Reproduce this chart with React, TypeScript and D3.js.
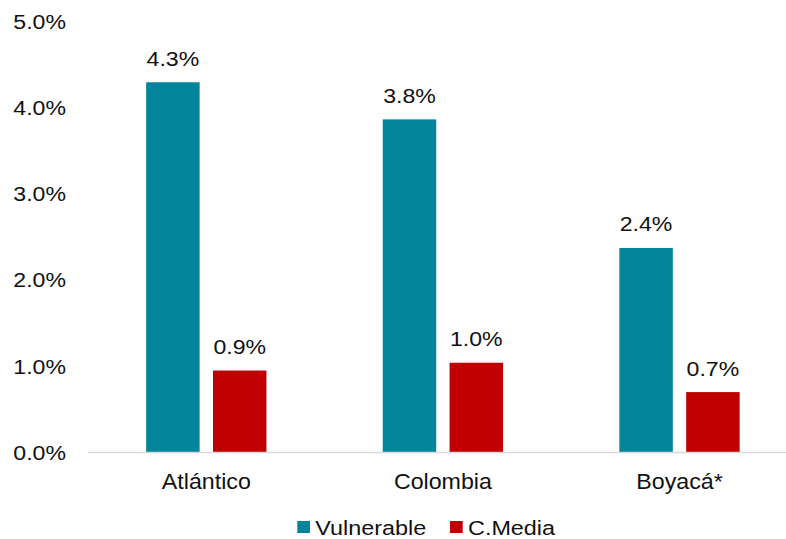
import React from "react";
import * as d3 from "d3";

const categories = ["Atlántico", "Colombia", "Boyacá*"];
const seriesNames = ["Vulnerable", "C.Media"];
const vulnerable = [0.0429, 0.0386, 0.0237];
const cMedia = [0.0095, 0.0104, 0.0070];
const valueLabels = [
  ["4.3%", "0.9%"],
  ["3.8%", "1.0%"],
  ["2.4%", "0.7%"],
];
const yTicks = [0, 0.01, 0.02, 0.03, 0.04, 0.05];
const colors = ["#02849B", "#C00000"];

const W = 786;
const H = 539;
const FONT = "'Liberation Sans', Arial, sans-serif";

function SText({ x, y, size, sx, anchor, children }: any) {
  return (
    <text
      transform={`translate(${x},${y}) scale(${sx},1)`}
      fontSize={size}
      fontFamily={FONT}
      fill="#111"
      textAnchor={anchor}
    >
      {children}
    </text>
  );
}

export default function App() {
  const y = d3.scaleLinear().domain([0, 0.05]).range([452.5, 21]);
  const x = d3.scaleBand<string>().domain(categories).range([88, 797.8]).padding(0);
  const groupW = 120.3;
  const values = [vulnerable, cMedia];

  return (
    <div style={{ position: "fixed", left: 0, top: 0 }}>
      <svg width={W} height={H} style={{ display: "block", background: "#fff" }}>
        {yTicks.map((t) => (
          <SText key={t} x={66} y={y(t) + 7.5} size={21} sx={1.1} anchor="end">
            {d3.format(".1%")(t)}
          </SText>
        ))}
        {categories.map((c, i) => {
          const cx = x(c)! + x.bandwidth() / 2;
          const sub = d3
            .scaleBand<string>()
            .domain(seriesNames)
            .range([cx - groupW / 2, cx + groupW / 2])
            .paddingInner(0.2)
            .paddingOuter(0);
          return (
            <g key={c}>
              {seriesNames.map((s, j) => {
                const v = values[j][i];
                const bx = sub(s)!;
                const bw = sub.bandwidth();
                return (
                  <g key={s}>
                    <rect
                      x={bx}
                      y={y(v)}
                      width={bw}
                      height={y(0) - y(v)}
                      fill={colors[j]}
                    />
                    <SText x={bx + bw / 2} y={y(v) - 16.5} size={21} sx={1.1} anchor="middle">
                      {valueLabels[i][j]}
                    </SText>
                  </g>
                );
              })}
              <SText x={cx} y={489} size={21.5} sx={1.08} anchor="middle">
                {c}
              </SText>
            </g>
          );
        })}
        <line x1={88} x2={786} y1={452.5} y2={452.5} stroke="#d9d9d9" strokeWidth={1.5} />
        {seriesNames.map((s, j) => {
          const lx = [297.3, 450][j];
          return (
            <g key={s}>
              <rect x={lx} y={521} width={12.7} height={12} fill={colors[j]} />
              <SText x={lx + 18} y={534.5} size={19.5} sx={1.2} anchor="start">
                {s}
              </SText>
            </g>
          );
        })}
      </svg>
    </div>
  );
}
